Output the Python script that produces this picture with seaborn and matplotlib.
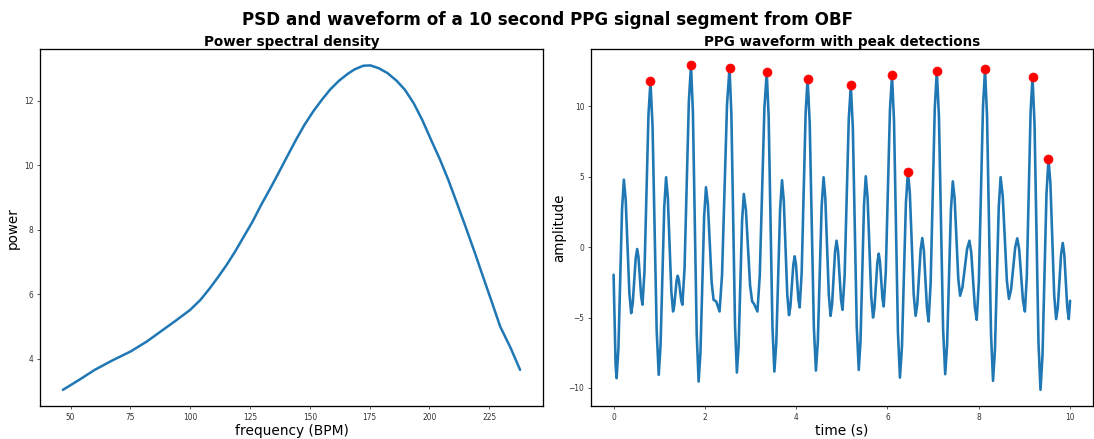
import numpy as np
import pandas as pd
import matplotlib
matplotlib.use("Agg")
import matplotlib.pyplot as plt
import seaborn as sns

# PSD curve
psd_freq = [46.8, 53.6, 60.1, 67.4, 75.1, 81.9, 87.7, 93.5, 100.0, 104.3,
            107.9, 111.6, 115.2, 118.8, 122.4, 126.1, 129.7, 133.3, 136.9,
            140.5, 144.2, 147.8, 151.4, 155.0, 158.6, 162.3, 165.9, 168.8,
            172.4, 175.3, 178.9, 182.5, 186.2, 189.8, 193.4, 197.0, 200.7,
            204.3, 207.9, 211.5, 215.1, 218.8, 222.4, 226.0, 229.6, 234.0, 237.9]
psd_power = [3.04, 3.35, 3.66, 3.95, 4.23, 4.54, 4.85, 5.16, 5.52, 5.83,
             6.16, 6.53, 6.91, 7.33, 7.79, 8.26, 8.78, 9.26, 9.76,
             10.27, 10.79, 11.26, 11.67, 12.03, 12.36, 12.63, 12.84, 12.98,
             13.09, 13.10, 13.01, 12.86, 12.63, 12.34, 11.93, 11.41, 10.79,
             10.20, 9.55, 8.83, 8.10, 7.33, 6.55, 5.78, 5.00, 4.33, 3.66]

# PPG waveform (roughly one line per beat)
ppg_time = [0.0, 0.044, 0.066, 0.106, 0.185, 0.225, 0.265, 0.346, 0.386, 0.419, 0.484, 0.517, 0.546, 0.604, 0.633, 0.677, 0.764,
            0.808, 0.853, 0.944, 0.989, 1.029, 1.110, 1.15, 1.188, 1.265, 1.303, 1.328, 1.379, 1.404, 1.430, 1.481, 1.507, 1.554, 1.649,
            1.696, 1.738, 1.821, 1.863, 1.903, 1.984, 2.024, 2.066, 2.149, 2.19, 2.249, 2.321, 2.376, 2.485,
            2.540, 2.580, 2.661, 2.701, 2.739, 2.815, 2.853, 2.899, 2.990, 3.035, 3.079, 3.151, 3.202, 3.304,
            3.355, 3.397, 3.480, 3.522, 3.564, 3.648, 3.690, 3.728, 3.805, 3.843, 3.874, 3.936, 3.967, 3.994, 4.049, 4.076, 4.120, 4.207,
            4.25, 4.296, 4.387, 4.432, 4.474, 4.558, 4.600, 4.638, 4.715, 4.753, 4.786, 4.851, 4.884, 4.917, 4.982, 5.015, 5.061, 5.152,
            5.197, 5.241, 5.327, 5.371, 5.409, 5.486, 5.524, 5.564, 5.644, 5.684, 5.715, 5.777, 5.808, 5.835, 5.890, 5.917, 5.963, 6.054,
            6.099, 6.143, 6.229, 6.273, 6.317, 6.404,
            6.448, 6.490, 6.574, 6.616, 6.653, 6.726, 6.762, 6.797, 6.866, 6.900, 6.945, 7.036,
            7.081, 7.127, 7.218, 7.264, 7.306, 7.389, 7.431, 7.471, 7.551, 7.591, 7.642, 7.744, 7.795, 7.835, 7.915, 7.955, 8.001, 8.092,
            8.137, 8.181, 8.268, 8.312, 8.354, 8.437, 8.478, 8.524, 8.615, 8.661, 8.707, 8.798, 8.843, 8.885, 8.968, 9.010, 9.052, 9.135,
            9.177, 9.221, 9.308, 9.352, 9.396, 9.483,
            9.527, 9.569, 9.652, 9.694, 9.731, 9.803, 9.840, 9.873, 9.938, 9.971, 10.0]
ppg_amp = [-1.96, -8.36, -9.31, -7.19, 2.68, 4.80, 3.38, -3.27, -4.69, -4.01, -0.81, -0.13, -0.72, -3.50, -4.09, -1.71, 9.40,
           11.78, 8.65, -5.94, -9.07, -6.96, 2.86, 4.97, 3.54, -3.14, -4.57, -4.19, -2.41, -2.03, -2.34, -3.78, -4.09, -1.54, 10.37,
           12.92, 9.55, -6.18, -9.55, -7.48, 2.19, 4.26, 3.06, -2.54, -3.74, -3.86, -4.57, -1.97, 10.15,
           12.75, 9.50, -5.66, -8.91, -7.01, 1.88, 3.78, 2.64, -2.71, -3.85, -4.05, -4.57, -2.02, 9.89,
           12.44, 9.25, -5.65, -8.84, -6.80, 2.72, 4.76, 3.32, -3.39, -4.83, -4.20, -1.28, -0.65, -1.19, -3.74, -4.28, -1.84, 9.53,
           11.97, 8.86, -5.66, -8.77, -6.71, 2.91, 4.97, 3.49, -3.40, -4.88, -4.08, -0.34, 0.46, -0.28, -3.71, -4.45, -2.05, 9.12,
           11.52, 8.48, -5.68, -8.72, -6.66, 2.98, 5.04, 3.53, -3.49, -5.00, -4.32, -1.14, -0.46, -1.02, -3.65, -4.21, -1.75, 9.75,
           12.21, 8.99, -6.05, -9.27, -7.07, 3.17,
           5.37, 3.83, -3.34, -4.88, -4.05, -0.18, 0.65, -0.24, -4.39, -5.28, -2.61, 9.87,
           12.54, 9.30, -5.79, -9.03, -6.97, 2.62, 4.68, 3.46, -2.23, -3.45, -2.86, -0.13, 0.46, -0.38, -4.32, -5.16, -2.49, 9.96,
           12.63, 9.31, -6.18, -9.50, -7.33, 2.80, 4.97, 3.67, -2.37, -3.67, -3.02, -0.01, 0.63, -0.15, -3.79, -4.57, -2.07, 9.61,
           12.11, 8.77, -6.80, -10.14, -7.68, 3.79,
           6.25, 4.55, -3.41, -5.11, -4.30, -0.51, 0.30, -0.51, -4.30, -5.11, -3.81]

# detected peaks
peak_time = [0.808, 1.696, 2.540, 3.355, 4.25, 5.197, 6.099, 6.448, 7.081,
             8.137, 9.177, 9.527]
peak_amp = [11.78, 12.92, 12.75, 12.44, 11.97, 11.52, 12.21, 5.37, 12.54,
            12.63, 12.11, 6.25]

psd = pd.DataFrame({"freq": psd_freq, "power": psd_power})
ppg = pd.DataFrame({"time": ppg_time, "amp": ppg_amp})
peaks = pd.DataFrame({"time": peak_time, "amp": peak_amp})

sns.set_style("ticks")
plt.rcParams["font.family"] = ["DejaVu Sans"]
plt.rcParams["text.color"] = "black"
plt.rcParams["axes.labelcolor"] = "black"

fig = plt.figure(figsize=(1094 / 72, 439 / 72), dpi=72)
ax1 = fig.add_axes([0.0366, 0.075, 0.4597, 0.813])
ax2 = fig.add_axes([0.540, 0.075, 0.459, 0.813])

blue = "#1f77b4"

sns.lineplot(data=psd, x="freq", y="power", ax=ax1, color=blue, linewidth=2.5,
             estimator=None)
ax1.set_title("Power spectral density", fontsize=13.5, fontweight="bold", pad=3)
ax1.set_xlabel("frequency (BPM)", fontsize=13.7, labelpad=2)
ax1.set_ylabel("power", fontsize=13.5)
ax1.set_xticks([50, 75, 100, 125, 150, 175, 200, 225])
ax1.set_yticks([4, 6, 8, 10, 12])

sns.lineplot(data=ppg, x="time", y="amp", ax=ax2, color=blue, linewidth=2.6,
             estimator=None, sort=False)
ax2.lines[0].set_solid_joinstyle("round")
sns.scatterplot(data=peaks, x="time", y="amp", ax=ax2, color="red", s=80,
                edgecolor="red", zorder=3)
ax2.set_title("PPG waveform with peak detections", fontsize=13.5,
              fontweight="bold", pad=3)
ax2.set_xlabel("time (s)", fontsize=13.7, labelpad=2)
ax2.set_ylabel("amplitude", fontsize=13.5, labelpad=2)
ax2.set_xticks([0, 2, 4, 6, 8, 10])
ax2.set_yticks([-10, -5, 0, 5, 10])

for ax in (ax1, ax2):
    ax.margins(x=0.05, y=0.05)
    ax.tick_params(labelsize=7.5, length=3, colors="#333333")
    for sp in ax.spines.values():
        sp.set_color("black")
        sp.set_linewidth(1.3)
        sp.set_visible(True)

fig.suptitle("PSD and waveform of a 10 second PPG signal segment from OBF",
             fontsize=16.8, fontweight="bold", y=0.975)

fig.savefig("out.png", dpi=72)
